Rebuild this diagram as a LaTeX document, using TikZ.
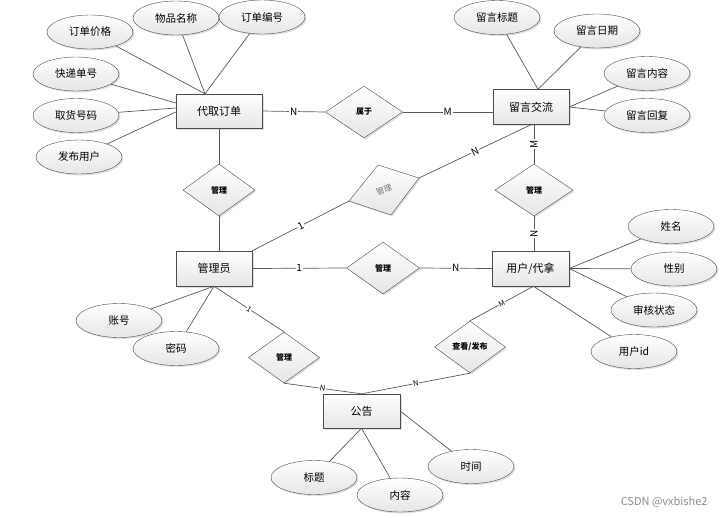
\documentclass[tikz,border=0pt]{standalone}
\usepackage{fontspec}
\setmainfont{Noto Sans CJK SC}
\usetikzlibrary{shapes.geometric,shadows}
\begin{document}
\begin{tikzpicture}[x=1pt,y=-1pt,
  shd/.style={drop shadow={shadow xshift=1.5pt,shadow yshift=-1.5pt,opacity=0.25}},
  ent/.style={shd,draw=black!70,top color=white,bottom color=black!10,minimum width=77pt,minimum height=35pt,inner sep=0pt,font=\fontsize{11}{13}\selectfont},
  attr/.style={shd,ellipse,draw=black!70,top color=white,bottom color=black!10,minimum width=86pt,minimum height=34pt,inner sep=0pt,font=\fontsize{10.5}{12}\selectfont},
  rel/.style={shd,diamond,draw=black!70,top color=white,bottom color=black!10,minimum width=74pt,minimum height=52pt,inner sep=0pt,font=\fontsize{8}{9}\selectfont\bfseries},
  ln/.style={draw=black!65,line width=0.7pt},
  card/.style={fill=white,inner sep=0.8pt,font=\fontsize{10}{11}\selectfont},
  cards/.style={fill=white,inner sep=0.5pt,font=\fontsize{7.5}{8}\selectfont}
]
\useasboundingbox (0,0) rectangle (725,517);

% entities
\node[ent,minimum width=86pt,minimum height=34pt] (dq) at (219,111) {代取订单};
\node[ent,minimum width=76pt] (ly) at (531,107) {留言交流};
\node[ent,minimum width=76pt] (gly) at (214,268.5) {管理员};
\node[ent] (yh) at (530.5,268.5) {用户/代拿};
\node[ent,minimum height=34pt] (gg) at (361.5,411) {公告};

% relationships
\node[rel,minimum width=77pt] (sy) at (364,112) {属于};
\node[rel,minimum width=72pt] (gl1) at (219,190) {管理};
\node[rel,minimum width=78pt] (gl3) at (534,190) {管理};
\node[rel,minimum width=73pt] (gl4) at (383,268) {管理};
\node[rel,minimum width=71pt,minimum height=51pt] (gl5) at (284,357.5) {管理};
\node[rel,minimum width=71pt] (ck) at (470,347) {查看/发布};

% skewed relationship
\coordinate (rdL) at (349,201);
\coordinate (rdT) at (378,165);
\coordinate (rdR) at (419,178);
\coordinate (rdB) at (391,215);
\shade[shd,draw=black!70,top color=white,bottom color=black!10] (rdL) -- (rdT) -- (rdR) -- (rdB) -- cycle;
\node[rotate=20,text=black!55,inner sep=0pt,font=\fontsize{8}{9}\selectfont] (gl2) at (384,190) {管理};

% attributes
\node[attr] (a1) at (90,32) {订单价格};
\node[attr] (a2) at (176,18) {物品名称};
\node[attr] (a3) at (262,17) {订单编号};
\node[attr] (a4) at (76,74) {快递单号};
\node[attr] (a5) at (76,115.5) {取货号码};
\node[attr] (a6) at (79,157) {发布用户};
\node[attr] (b1) at (497,17.5) {留言标题};
\node[attr] (b2) at (597,31) {留言日期};
\node[attr] (b3) at (647,73.5) {留言内容};
\node[attr] (b4) at (647,115.5) {留言回复};
\node[attr] (c1) at (671,226.5) {姓名};
\node[attr] (c2) at (674,269) {性别};
\node[attr] (c3) at (654,310) {审核状态};
\node[attr] (c4) at (634,351.5) {用户id};
\node[attr] (d1) at (119,320.5) {账号};
\node[attr] (d2) at (176,348.5) {密码};
\node[attr] (e1) at (314,477.5) {标题};
\node[attr] (e2) at (400,495) {内容};
\node[attr] (e3) at (471,466.5) {时间};

% attachment points
\coordinate (dqT) at ([xshift=-14pt]dq.north);
\coordinate (dqL1) at ([yshift=8pt]dq.west);
\coordinate (dqL2) at ([yshift=3pt]dq.west);
\coordinate (dqL3) at ([yshift=-1pt]dq.west);
\coordinate (lyT) at ([xshift=7pt]ly.north);
\coordinate (yhB) at ([xshift=3pt]yh.south);

% attribute lines
\draw[ln] (a1) -- (dqT);
\draw[ln] (a2) -- (dqT);
\draw[ln] (a3) -- (dqT);
\draw[ln] (a4) -- (dqL1);
\draw[ln] (a5) -- (dqL2);
\draw[ln] (a6) -- (dqL3);
\draw[ln] (b1) -- (lyT);
\draw[ln] (b2) -- (lyT);
\draw[ln] (b3) -- (ly.east);
\draw[ln] (b4) -- (ly.east);
\draw[ln] (c1) -- (yh.east);
\draw[ln] (c2) -- (yh.east);
\draw[ln] (c3) -- (yh.east);
\draw[ln] (c4) -- (yhB);
\draw[ln] (d1) -- (gly.south);
\draw[ln] (d2) -- (gly.south);
\draw[ln] (e1) -- (gg.south);
\draw[ln] (e2) -- (gg.south);
\draw[ln] (e3) -- (gg.east);

% relationship lines
\draw[ln] (dq.east) -- node[card]{N} (sy.west);
\draw[ln] (sy.east) -- node[card]{M} (sy.east -| ly.west);
\draw[ln] (dq.south) -- (gl1.north);
\draw[ln] (gl1.south) -- (gl1.south |- gly.north);
\draw[ln] (gl3.north |- ly.south) -- node[card,rotate=90]{M} (gl3.north);
\draw[ln] (gl3.south) -- node[card,rotate=90]{N} (gl3.south |- yh.north);
\draw[ln] (gly.east) -- node[card]{1} (gl4.west);
\draw[ln] (gl4.east) -- node[card]{N} (yh.west);
\draw[ln] (gly.north east) -- node[card,sloped]{1} (rdL);
\draw[ln] (rdR) -- node[card,sloped]{N} (ly.south);
\draw[ln] (gly.south) -- node[cards,sloped]{1} (gl5.north);
\draw[ln] (gl5.south) -- node[cards,sloped]{N} (gg.north);
\draw[ln] (yhB) -- node[cards,sloped]{M} (ck.north);
\draw[ln] (ck.south) -- node[cards,sloped]{N} (gg.north);

\node[anchor=east,text=black!45,font=\fontsize{11}{12}\selectfont] (wm) at (711,502) {CSDN @vxbishe2};
\end{tikzpicture}
\end{document}
